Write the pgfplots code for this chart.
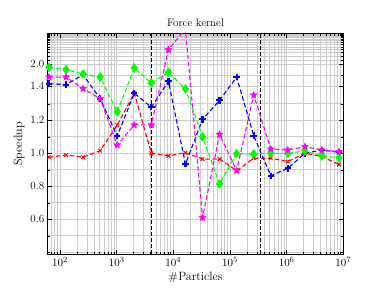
\documentclass[border=0pt]{standalone}
\usepackage{pgfplots}
\pgfplotsset{compat=1.18}
\definecolor{lgreen}{rgb}{0,1,0}
\definecolor{mag}{rgb}{1,0,1}
\definecolor{gridgray}{rgb}{0.80,0.80,0.80}
\pgfdeclareplotmark{fstar}{%
  \pgfpathmoveto{\pgfpointpolar{90}{\pgfplotmarksize}}%
  \pgfpathlineto{\pgfpointpolar{126}{0.45\pgfplotmarksize}}%
  \pgfpathlineto{\pgfpointpolar{162}{\pgfplotmarksize}}%
  \pgfpathlineto{\pgfpointpolar{198}{0.45\pgfplotmarksize}}%
  \pgfpathlineto{\pgfpointpolar{234}{\pgfplotmarksize}}%
  \pgfpathlineto{\pgfpointpolar{270}{0.45\pgfplotmarksize}}%
  \pgfpathlineto{\pgfpointpolar{306}{\pgfplotmarksize}}%
  \pgfpathlineto{\pgfpointpolar{342}{0.45\pgfplotmarksize}}%
  \pgfpathlineto{\pgfpointpolar{18}{\pgfplotmarksize}}%
  \pgfpathlineto{\pgfpointpolar{54}{0.45\pgfplotmarksize}}%
  \pgfpathclose
  \pgfusepathqfillstroke}
\pgfplotstableread{
x        red    blue   green  mag
64       0.976  1.422  1.521  1.462
128      0.990  1.416  1.507  1.462
256      0.976  1.476  1.480  1.392
512      1.016  1.331  1.462  1.331
1024     1.170  1.105  1.252  1.050
2048     1.365  1.364  1.517  1.172
4096     1.000  1.279  1.426  1.172
8192     0.985  1.436  1.491  1.628
16384    1.003  0.935  1.390  1.753
32768    0.965  1.206  1.100  0.610
65536    0.965  1.321  0.814  1.115
131072   0.895  1.462  0.998  0.895
262144   0.970  1.107  0.996  1.353
524288   0.970  0.864  1.000  1.026
1048576  0.950  0.909  1.000  1.020
2097152  1.000  1.000  1.014  1.040
4194304  0.980  1.020  0.984  1.020
8388608  0.933  1.006  0.973  1.010
}\speed
\begin{document}
\begin{tikzpicture}
\useasboundingbox (-47.7pt,-32.7pt) rectangle (334.3pt,254.3pt);
\begin{axis}[
  at={(0,0)}, anchor=south west,
  scale only axis, width=295.6pt, height=220.8pt,
  xmode=log, xmin=60.7, xmax=1e7,
  ymin=0.388, ymax=1.726,
  xtick={1e2,1e3,1e4,1e5,1e6,1e7},
  minor xtick={70,80,90,200,300,400,500,600,700,800,900,2000,3000,4000,5000,6000,7000,8000,9000,2e4,3e4,4e4,5e4,6e4,7e4,8e4,9e4,2e5,3e5,4e5,5e5,6e5,7e5,8e5,9e5,2e6,3e6,4e6,5e6,6e6,7e6,8e6,9e6},
  ytick={0.6,0.8,1.0,1.2,1.408,1.541},
  yticklabels={0.6,0.8,1.0,1.2,1.4,2.0},
  minor ytick={0.4,0.5,0.7,0.9,1.1,1.3,1.47,1.565,1.590,1.611,1.629,1.644,1.659,1.672,1.684,1.693,1.702,1.709,1.716,1.721},
  grid=both,
  major grid style={gridgray, line width=0.7pt},
  minor grid style={gridgray, line width=0.7pt},
  tick align=inside,
  major tick length=4pt, minor tick length=2pt,
  every tick/.style={black, line width=0.6pt},
  axis line style={black, line width=1pt},
  tick label style={font=\fontsize{11}{13}\selectfont},
  label style={font=\fontsize{12}{14}\selectfont},
  title style={font=\fontsize{11}{13}\selectfont, yshift=-3pt},
  title={Force kernel},
  xlabel={\#Particles},
  ylabel={Speedup},
  ylabel style={yshift=-1pt},
  xlabel style={yshift=2pt},
  clip=true,
  every axis plot/.append style={line width=1.1pt, dash pattern=on 4.5pt off 2.5pt},
]
\addplot[black, line width=1.3pt, dash pattern=on 4pt off 2pt, forget plot] coordinates {(4096,0.388) (4096,1.726)};
\addplot[black, line width=1.3pt, dash pattern=on 4pt off 2pt, forget plot] coordinates {(350000,0.388) (350000,1.726)};
\addplot[red, mark=x, mark size=2.6pt, mark options={solid, line width=1pt}] table[x=x, y=red] {\speed};
\addplot[blue, mark=+, mark size=3.2pt, mark options={solid, line width=2.2pt}] table[x=x, y=blue] {\speed};
\addplot[lgreen, mark=diamond*, mark size=4pt, mark options={solid, fill=lgreen}] table[x=x, y=green] {\speed};
\addplot[mag, mark=fstar, mark size=3.6pt, mark options={solid, fill=mag, line width=0.5pt}] table[x=x, y=mag] {\speed};
\end{axis}
\end{tikzpicture}
\end{document}
